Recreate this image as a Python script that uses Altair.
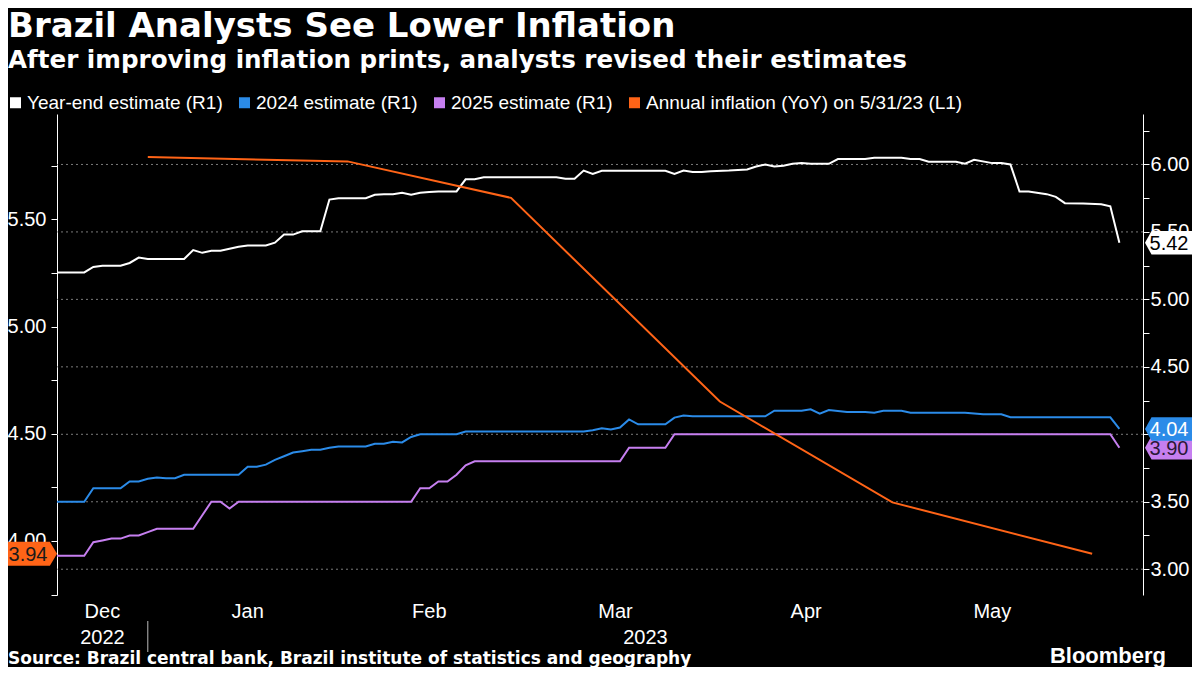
import altair as alt
import pandas as pd

# ---------------- data ----------------
series_names = [
    "Year-end estimate (R1)",
    "2024 estimate (R1)",
    "2025 estimate (R1)",
    "Annual inflation (YoY) on 5/31/23 (L1)",
]
series_colors = ["#ffffff", "#2b8be8", "#c67ff0", "#ff6417"]

# business-day calendar of the x axis (Brazilian market holidays removed)
cal_start = "2022-12-16"
cal_end = "2023-06-09"
holidays = ["2023-02-20", "2023-02-21", "2023-04-21", "2023-05-01"]

year_end = [
    ("2022-12-16", 5.20), ("2022-12-21", 5.20), ("2022-12-22", 5.24), ("2022-12-23", 5.25),
    ("2022-12-27", 5.25), ("2022-12-28", 5.27), ("2022-12-29", 5.31), ("2022-12-30", 5.30),
    ("2023-01-05", 5.30), ("2023-01-06", 5.365), ("2023-01-09", 5.345), ("2023-01-10", 5.36),
    ("2023-01-11", 5.36), ("2023-01-12", 5.375), ("2023-01-13", 5.39), ("2023-01-16", 5.40),
    ("2023-01-18", 5.40), ("2023-01-19", 5.42), ("2023-01-20", 5.48), ("2023-01-23", 5.48),
    ("2023-01-24", 5.505), ("2023-01-26", 5.505), ("2023-01-27", 5.74), ("2023-01-30", 5.75),
    ("2023-02-02", 5.75), ("2023-02-03", 5.775), ("2023-02-06", 5.78), ("2023-02-07", 5.78),
    ("2023-02-08", 5.79), ("2023-02-09", 5.775), ("2023-02-10", 5.79), ("2023-02-13", 5.795),
    ("2023-02-14", 5.80), ("2023-02-16", 5.80), ("2023-02-17", 5.89), ("2023-02-22", 5.89),
    ("2023-02-23", 5.905), ("2023-03-07", 5.905), ("2023-03-08", 5.895), ("2023-03-09", 5.895),
    ("2023-03-10", 5.955), ("2023-03-13", 5.93), ("2023-03-14", 5.953), ("2023-03-23", 5.953),
    ("2023-03-24", 5.93), ("2023-03-27", 5.955), ("2023-03-28", 5.945), ("2023-03-29", 5.945),
    ("2023-03-30", 5.95), ("2023-04-03", 5.955), ("2023-04-05", 5.963), ("2023-04-06", 5.985),
    ("2023-04-07", 6.00), ("2023-04-10", 5.985), ("2023-04-11", 5.99), ("2023-04-12", 6.005),
    ("2023-04-13", 6.01), ("2023-04-14", 6.005), ("2023-04-18", 6.005), ("2023-04-19", 6.04),
    ("2023-04-25", 6.04), ("2023-04-26", 6.05), ("2023-05-02", 6.05), ("2023-05-03", 6.04),
    ("2023-05-04", 6.04), ("2023-05-05", 6.02), ("2023-05-10", 6.02), ("2023-05-11", 6.005),
    ("2023-05-12", 6.035), ("2023-05-16", 6.01), ("2023-05-17", 6.01), ("2023-05-18", 6.00),
    ("2023-05-19", 5.80), ("2023-05-22", 5.80), ("2023-05-24", 5.78), ("2023-05-25", 5.76),
    ("2023-05-26", 5.713), ("2023-05-30", 5.71), ("2023-06-01", 5.705), ("2023-06-02", 5.69),
    ("2023-06-05", 5.42),
]

est_2024 = [
    ("2022-12-16", 3.50), ("2022-12-21", 3.50), ("2022-12-22", 3.60), ("2022-12-27", 3.60),
    ("2022-12-28", 3.65), ("2022-12-29", 3.65), ("2022-12-30", 3.67), ("2023-01-02", 3.68),
    ("2023-01-03", 3.675), ("2023-01-04", 3.675), ("2023-01-05", 3.70), ("2023-01-13", 3.70),
    ("2023-01-16", 3.76), ("2023-01-17", 3.76), ("2023-01-18", 3.775), ("2023-01-19", 3.81),
    ("2023-01-20", 3.837), ("2023-01-23", 3.865), ("2023-01-24", 3.875), ("2023-01-25", 3.885),
    ("2023-01-26", 3.885), ("2023-01-27", 3.90), ("2023-01-30", 3.91), ("2023-02-02", 3.91),
    ("2023-02-03", 3.93), ("2023-02-06", 3.93), ("2023-02-07", 3.945), ("2023-02-08", 3.94),
    ("2023-02-09", 3.98), ("2023-02-10", 4.00), ("2023-02-16", 4.00), ("2023-02-17", 4.02),
    ("2023-03-10", 4.02), ("2023-03-13", 4.03), ("2023-03-14", 4.045), ("2023-03-15", 4.035),
    ("2023-03-16", 4.05), ("2023-03-17", 4.11), ("2023-03-20", 4.074), ("2023-03-23", 4.074),
    ("2023-03-24", 4.124), ("2023-03-27", 4.14), ("2023-03-28", 4.133), ("2023-04-07", 4.133),
    ("2023-04-10", 4.175), ("2023-04-13", 4.175), ("2023-04-14", 4.185), ("2023-04-17", 4.153),
    ("2023-04-18", 4.18), ("2023-04-20", 4.165), ("2023-04-25", 4.165), ("2023-04-26", 4.16),
    ("2023-04-27", 4.175), ("2023-05-02", 4.175), ("2023-05-03", 4.16), ("2023-05-11", 4.16),
    ("2023-05-15", 4.148), ("2023-05-17", 4.148), ("2023-05-18", 4.126), ("2023-06-02", 4.126),
    ("2023-06-05", 4.04),
]

est_2025 = [
    ("2022-12-16", 3.10), ("2022-12-21", 3.10), ("2022-12-22", 3.20), ("2022-12-23", 3.213),
    ("2022-12-26", 3.227), ("2022-12-27", 3.227), ("2022-12-28", 3.25), ("2022-12-29", 3.25),
    ("2022-12-30", 3.275), ("2023-01-02", 3.30), ("2023-01-06", 3.30), ("2023-01-09", 3.40),
    ("2023-01-10", 3.50), ("2023-01-11", 3.50), ("2023-01-12", 3.45), ("2023-01-13", 3.50),
    ("2023-02-09", 3.50), ("2023-02-10", 3.60), ("2023-02-13", 3.60), ("2023-02-14", 3.65),
    ("2023-02-15", 3.65), ("2023-02-16", 3.70), ("2023-02-17", 3.77), ("2023-02-22", 3.80),
    ("2023-03-16", 3.80), ("2023-03-17", 3.90), ("2023-03-23", 3.90), ("2023-03-24", 4.00),
    ("2023-06-02", 4.00), ("2023-06-05", 3.90),
]

inflation = [
    ("2022-12-30", 5.79), ("2023-01-31", 5.77), ("2023-02-28", 5.60),
    ("2023-03-31", 4.65), ("2023-04-28", 4.18), ("2023-05-31", 3.94),
]

month_names = ["Dec", "Jan", "Feb", "Mar", "Apr", "May"]
year_names = ["2022", "2023"]
right_ticks = [3.0 + 0.25 * i for i in range(14)]
left_ticks = [3.75 + 0.25 * i for i in range(9)]
grid_values = [3.0, 3.5, 4.0, 4.5, 5.0, 5.5, 6.0]

title_text = "Brazil Analysts See Lower Inflation"
subtitle_text = "After improving inflation prints, analysts revised their estimates"
source_text = "Source: Brazil central bank, Brazil institute of statistics and geography"
brand_text = "Bloomberg"

# ---------------- tables ----------------
bdays = [d for d in pd.bdate_range(cal_start, cal_end) if d.strftime("%Y-%m-%d") not in holidays]
pos = {d.strftime("%Y-%m-%d"): i for i, d in enumerate(bdays)}
X_MAX = 119.6


def frame(pairs, name):
    return pd.DataFrame({"date": [p[0] for p in pairs],
                         "idx": [pos[p[0]] for p in pairs],
                         "value": [p[1] for p in pairs],
                         "series": name})


ye_df = frame(year_end, series_names[0])
e24_df = frame(est_2024, series_names[1])
e25_df = frame(est_2025, series_names[2])
inf_df = frame(inflation, series_names[3])
est_df = pd.concat([ye_df, e24_df, e25_df], ignore_index=True)

# month boundaries = last business day of each month inside the view
cal_df = pd.DataFrame({"d": bdays, "i": range(len(bdays))})
cal_df["m"] = cal_df["d"].dt.to_period("M")
last_idx = cal_df.groupby("m")["i"].max()
boundaries = [int(v) for v in last_idx.values if v < X_MAX]
starts = [0] + boundaries[:-1]
month_df = pd.DataFrame({"label": month_names,
                         "mid": [(a + b) / 2 for a, b in zip(starts, boundaries)]})
year_df = pd.DataFrame({"label": year_names,
                        "mid": [boundaries[0] / 2, (boundaries[0] + X_MAX) / 2]})
sep_df = pd.DataFrame({"idx": [boundaries[0]]})

# ---------------- scales / axes ----------------
W, H = 1086, 481
FONT = "Liberation Sans"
BOLD = "DejaVu Sans"
x_scale = alt.Scale(domain=[0, X_MAX], nice=False, zero=False)
right_scale = alt.Scale(domain=[2.809, 6.374], nice=False, zero=False)
left_scale = alt.Scale(domain=[3.748, 5.991], nice=False, zero=False)
color_scale = alt.Scale(domain=series_names, range=series_colors)

label_expr = "(datum.value * 4) % 2 == 0 ? format(datum.value, '.2f') : ''"
right_axis = alt.Axis(orient="right", values=right_ticks, labelExpr=label_expr, grid=False,
                      tickSize=6, tickColor="white", domainColor="white", labelColor="white",
                      labelFontSize=20, labelFont=FONT, labelPadding=1, title=None)
left_axis = alt.Axis(orient="left", values=left_ticks, labelExpr=label_expr, grid=False,
                     tickSize=6, tickColor="white", domainColor="white", labelColor="white",
                     labelFontSize=20, labelFont=FONT, labelPadding=5, title=None)
x_axis = alt.Axis(orient="bottom", values=boundaries, labels=False, tickSize=5, tickColor="white",
                  domainColor="white", grid=True, gridColor="#7a7a7a", gridDash=[2, 3],
                  gridWidth=1, title=None)

legend = alt.Legend(title=None, orient="none", legendX=-51, legendY=-21, direction="horizontal",
                    symbolType="square", symbolSize=4, symbolStrokeWidth=9, padding=0,
                    labelFontSize=19, labelColor="white", labelFont=FONT, labelLimit=600,
                    columnPadding=2, labelOffset=2, symbolOpacity=1)

# ---------------- layers ----------------
grid = alt.Chart(pd.DataFrame({"v": grid_values})).mark_rule(
    color="#7a7a7a", strokeDash=[2, 3], strokeWidth=1
).encode(y=alt.Y("v:Q", scale=right_scale, axis=None))

est_lines = alt.Chart(est_df).mark_line(strokeWidth=2).encode(
    x=alt.X("idx:Q", scale=x_scale, axis=x_axis),
    y=alt.Y("value:Q", scale=right_scale, axis=right_axis),
    color=alt.Color("series:N", scale=color_scale, legend=legend),
)

inf_line = alt.Chart(inf_df).mark_line(strokeWidth=2).encode(
    x=alt.X("idx:Q", scale=x_scale, axis=None),
    y=alt.Y("value:Q", scale=left_scale, axis=left_axis),
    color=alt.Color("series:N", scale=color_scale, legend=legend),
)

RIGHT_TAG = "M-1,0L-0.74,-0.47L1,-0.47L1,0.47L-0.74,0.47Z"
LEFT_TAG = "M1,0L0.75,-0.42L-1,-0.42L-1,0.42L0.75,0.42Z"


def tag(df, scale, fill, text_color, xc, shape, size, tx):
    last = df.tail(1)
    box = alt.Chart(last).mark_point(shape=shape, size=size, filled=True, color=fill,
                                     opacity=1, strokeWidth=0).encode(
        x=alt.value(xc), y=alt.Y("value:Q", scale=scale, axis=None))
    txt = alt.Chart(last).mark_text(font=FONT, fontSize=20, color=text_color, align="center",
                                    baseline="middle", dy=1).encode(
        x=alt.value(tx), y=alt.Y("value:Q", scale=scale, axis=None),
        text=alt.Text("value:Q", format=".2f"))
    return [box, txt]


tags = (tag(ye_df, right_scale, series_colors[0], "#000000", 1113, RIGHT_TAG, 2500, 1112)
        + tag(e25_df, right_scale, series_colors[2], "#2a1838", 1113, RIGHT_TAG, 2500, 1112)
        + tag(e24_df, right_scale, series_colors[1], "#ffffff", 1113, RIGHT_TAG, 2500, 1112)
        + tag(inf_df, left_scale, series_colors[3], "#1a1a1a", -28.5, LEFT_TAG, 3249, -29))

month_text = alt.Chart(month_df).mark_text(font=FONT, fontSize=20, color="white",
                                           baseline="middle").encode(
    x=alt.X("mid:Q", scale=x_scale, axis=None), y=alt.value(498), text="label:N")
year_text = alt.Chart(year_df).mark_text(font=FONT, fontSize=20, color="white",
                                         baseline="middle").encode(
    x=alt.X("mid:Q", scale=x_scale, axis=None), y=alt.value(524), text="label:N")
sep = alt.Chart(sep_df).mark_rule(color="#bbbbbb", strokeWidth=1).encode(
    x=alt.X("idx:Q", scale=x_scale, axis=None), y=alt.value(507), y2=alt.value(538))

title = alt.Chart(pd.DataFrame({"t": [title_text]})).mark_text(
    font=BOLD, fontWeight="bold", fontSize=34, color="white", align="left", baseline="alphabetic"
).encode(x=alt.value(-49), y=alt.value(-77), text="t:N")
subtitle = alt.Chart(pd.DataFrame({"t": [subtitle_text]})).mark_text(
    font=BOLD, fontWeight="bold", fontSize=24.6, color="white", align="left", baseline="alphabetic"
).encode(x=alt.value(-49), y=alt.value(-46), text="t:N")
source = alt.Chart(pd.DataFrame({"t": [source_text]})).mark_text(
    font=BOLD, fontWeight="bold", fontSize=17, color="white", align="left", baseline="alphabetic"
).encode(x=alt.value(-49), y=alt.value(550), text="t:N")
brand = alt.Chart(pd.DataFrame({"t": [brand_text]})).mark_text(
    font=FONT, fontWeight="bold", fontSize=22, color="white", align="right", baseline="alphabetic"
).encode(x=alt.value(1109), y=alt.value(549), text="t:N")

chart = alt.layer(
    grid, est_lines, inf_line, *tags, month_text, year_text, sep, title, subtitle, source, brand
).resolve_scale(y="independent").properties(
    width=W, height=H, background="black",
    padding={"left": 49, "top": 106, "right": 49, "bottom": 72},
    autosize=alt.AutoSizeParams(type="none"),
).configure_view(strokeWidth=0)

chart.save("out.html", embed_options={"renderer": "svg", "actions": False})
